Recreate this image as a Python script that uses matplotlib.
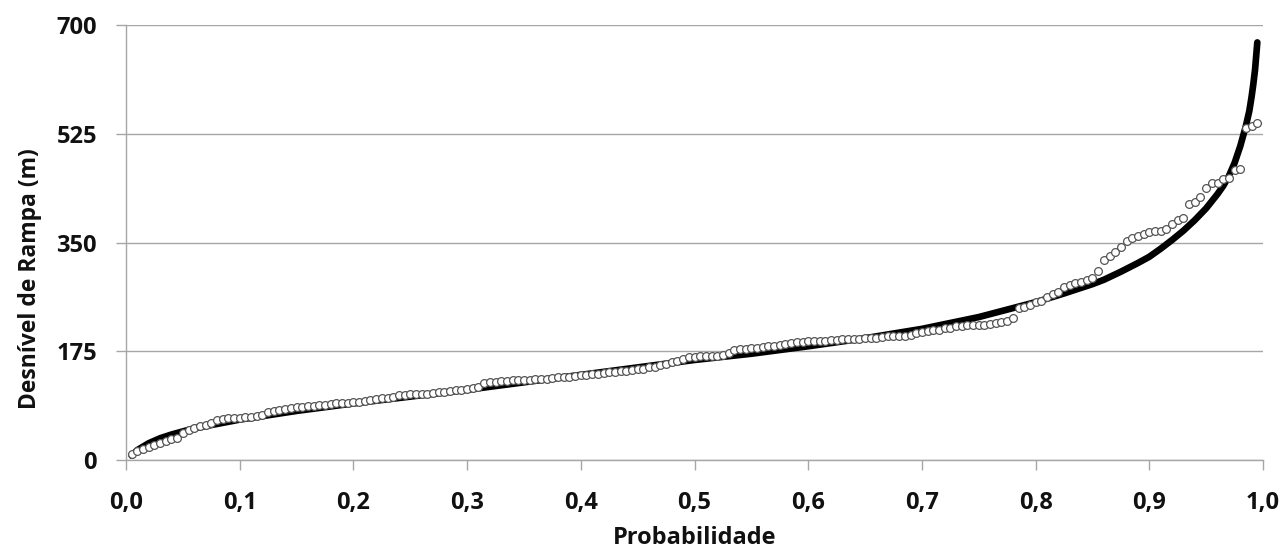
import matplotlib
matplotlib.use("Agg")
import matplotlib.pyplot as plt
import numpy as np

# fitted quantile curve (probability, value)
curve_p = [0.005, 0.01, 0.02, 0.03, 0.04, 0.05, 0.06, 0.08, 0.10, 0.125, 0.15, 0.175,
           0.2, 0.25, 0.3, 0.35, 0.4, 0.45, 0.5, 0.55, 0.6, 0.65, 0.7, 0.75, 0.8,
           0.825, 0.85, 0.86, 0.875, 0.89, 0.9, 0.91, 0.92, 0.93, 0.94, 0.95, 0.96,
           0.965, 0.97, 0.975, 0.98, 0.985, 0.988, 0.99, 0.9915, 0.993, 0.995]
curve_v = [7, 16, 27, 35, 41, 46, 51, 58, 65, 72, 79, 85,
           91, 102, 113, 125, 137, 149, 161, 171, 183, 196, 211, 230, 254,
           268, 283, 290, 303, 317, 327, 340, 354, 369, 386, 405, 428,
           441, 457, 478, 505, 538, 562, 585, 605, 628, 672]

# observed values, sorted (199 samples)
obs_v = [9, 15, 18, 21, 24, 27, 30, 33, 36, 44,
         49, 52, 54, 57, 59, 65, 66, 67, 67, 68,
         69, 70, 71, 73, 77, 79, 80, 82, 84, 85,
         86, 87, 87, 88, 89, 90, 91, 92, 92, 93,
         94, 95, 96, 98, 99, 100, 102, 104, 105, 106,
         106, 107, 107, 108, 109, 110, 111, 112, 113, 114,
         116, 118, 124, 125, 126, 127, 127, 128, 128, 129,
         129, 130, 131, 131, 132, 133, 134, 134, 135, 136,
         137, 138, 139, 140, 141, 142, 143, 144, 145, 146,
         147, 149, 150, 153, 155, 158, 159, 163, 165, 166,
         167, 167, 168, 168, 169, 172, 177, 178, 179, 180,
         181, 182, 183, 184, 185, 187, 189, 190, 190, 191,
         191, 192, 192, 193, 193, 194, 194, 195, 195, 196,
         197, 197, 198, 199, 199, 200, 200, 201, 204, 206,
         208, 209, 210, 212, 213, 215, 216, 217, 217, 218,
         218, 219, 220, 222, 224, 229, 244, 247, 250, 254,
         256, 262, 267, 270, 278, 282, 285, 287, 289, 293,
         304, 322, 328, 334, 342, 352, 357, 360, 364, 367,
         369, 369, 372, 379, 386, 389, 412, 415, 424, 437,
         446, 446, 452, 454, 467, 468, 534, 538, 543]

yticks = [0, 175, 350, 525, 700]
xticks = [0.0, 0.1, 0.2, 0.3, 0.4, 0.5, 0.6, 0.7, 0.8, 0.9, 1.0]

# plotting positions of the sorted sample
obs_p = np.arange(1, len(obs_v) + 1) / (len(obs_v) + 1)

plt.rcParams['font.family'] = ['Open Sans', 'DejaVu Sans']

fig = plt.figure(figsize=(12.86, 5.56), dpi=100)
ax = fig.add_axes([126 / 1286, 96 / 556, 1137 / 1286, 435 / 556])

grid_c = '#a6a6a6'
txt_c = '#111111'
ax.plot(curve_p, curve_v, color='black', lw=4.8, solid_capstyle='round',
        solid_joinstyle='round', zorder=3)
ax.plot(obs_p, obs_v, ls='none', marker='o', ms=5.6, mfc='white', mec='#555555',
        mew=0.9, zorder=4)

ax.set_xlim(0, 1.0)
ax.set_ylim(0, 700)
ax.set_xticks(xticks)
ax.set_yticks(yticks)
ax.set_xticklabels([f"{t:.1f}".replace('.', ',') for t in xticks])
ax.set_yticklabels([str(t) for t in yticks])
ax.yaxis.grid(True, color=grid_c, lw=1.0)
ax.set_axisbelow(True)

for s in ['top', 'right']:
    ax.spines[s].set_visible(False)
for s in ['left', 'bottom']:
    ax.spines[s].set_color(grid_c)
    ax.spines[s].set_linewidth(1.0)

ax.tick_params(axis='x', direction='out', length=7, width=1, color=grid_c,
               labelsize=17, labelcolor=txt_c, pad=15)
ax.tick_params(axis='y', direction='out', length=7, width=1, color=grid_c,
               labelsize=17, labelcolor=txt_c, pad=14)
for lab in ax.get_xticklabels() + ax.get_yticklabels():
    lab.set_fontweight('bold')

fig.text(30 / 1286, 1 - 279 / 556, 'Desnível de Rampa (m)', rotation=90,
         ha='center', va='center', fontsize=16.5, fontweight='bold', color=txt_c)
fig.text(695 / 1286, 1 - 538 / 556, 'Probabilidade', ha='center', va='center',
         fontsize=17, fontweight='bold', color=txt_c)

fig.savefig('out.png', dpi=100, facecolor='white')
